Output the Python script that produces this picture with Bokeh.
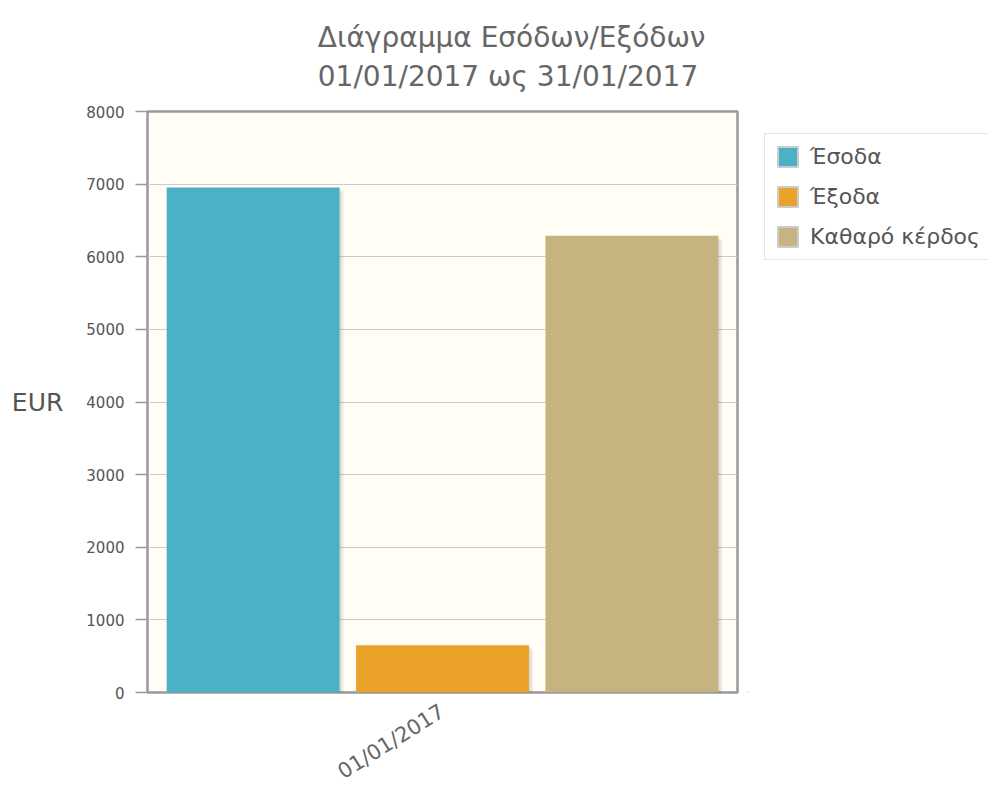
import math
from bokeh.plotting import figure
from bokeh.layouts import row
from bokeh.models import (FactorRange, Range1d, ColumnDataSource, Legend,
                          LegendItem, FixedTicker)
from bokeh.transform import dodge
from bokeh.embed import file_html
from bokeh.resources import INLINE

# ---- data ----
categories = ["01/01/2017"]
series = ["Έσοδα", "Έξοδα", "Καθαρό κέρδος"]
amounts = [6955, 650, 6290]
colors = ["#4bb2c5", "#EAA228", "#c5b47f"]
y_ticks = [0, 1000, 2000, 3000, 4000, 5000, 6000, 7000, 8000]
title_lines = ["Διάγραμμα Εσόδων/Εξόδων", "01/01/2017 ως 31/01/2017"]
y_label = "EUR"

# ---- layout ----
H = 796
FW, FH = 590, 582
LEFT, TOP, RIGHT = 147, 110, 10
W = LEFT + FW + RIGHT
LW = 988 - W
FONT = "DejaVu Sans"

p = figure(width=W, height=H,
           x_range=FactorRange(factors=categories),
           y_range=Range1d(y_ticks[0], y_ticks[-1]),
           output_backend="svg", toolbar_location=None,
           min_border_left=LEFT, min_border_right=RIGHT,
           min_border_top=TOP, min_border_bottom=H - TOP - FH)

p.background_fill_color = "#fffdf6"
p.border_fill_color = "white"
p.outline_line_color = "#999999"
p.outline_line_width = 2.5

offsets = [-0.321, 0.0, 0.321]
bar_w = 0.293
px = 1.0 / FW
py = (y_ticks[-1] - y_ticks[0]) / FH

for name, amt, col, off in zip(series, amounts, colors, offsets):
    for k in (1, 2, 3):
        ssrc = ColumnDataSource(dict(x=categories, top=[amt - k * 1.4 * py]))
        p.vbar(x=dodge("x", off + k * 1.4 * px, range=p.x_range), top="top",
               width=bar_w, source=ssrc, fill_color="black", fill_alpha=0.05,
               line_color=None)
    src = ColumnDataSource(dict(x=categories, top=[amt]))
    p.vbar(x=dodge("x", off, range=p.x_range), top="top", width=bar_w,
           source=src, fill_color=col, line_color=None)

# ---- axes ----
p.xgrid.grid_line_color = None
p.ygrid.ticker = FixedTicker(ticks=y_ticks)
p.ygrid.grid_line_color = "#cccccc"

ya = p.yaxis[0]
ya.ticker = FixedTicker(ticks=y_ticks)
ya.axis_line_color = None
ya.major_tick_out = 12
ya.major_tick_in = 0
ya.major_tick_line_color = "#999999"
ya.major_tick_line_width = 1.5
ya.minor_tick_line_color = None
ya.major_label_standoff = 11
ya.major_label_text_font = FONT
ya.major_label_text_font_size = "15px"
ya.major_label_text_color = "#555555"
ya.axis_label = y_label
ya.axis_label_orientation = "horizontal"
ya.axis_label_text_font = FONT
ya.axis_label_text_font_size = "25px"
ya.axis_label_text_font_style = "normal"
ya.axis_label_text_color = "#555555"
ya.axis_label_standoff = 20

xa = p.xaxis[0]
xa.axis_line_color = None
xa.major_tick_line_color = None
xa.minor_tick_line_color = None
xa.major_label_orientation = math.radians(32)
xa.major_label_standoff = 11
xa.major_label_text_font = FONT
xa.major_label_text_font_size = "21px"
xa.major_label_text_color = "#666666"

# ---- title ----
p.title.text = "\n".join(title_lines)
p.title.align = "right"
p.title.offset = 32
p.title.standoff = 36
p.title.text_font = FONT
p.title.text_font_size = "28px"
p.title.text_font_style = "normal"
p.title.text_color = "#666666"
p.title.text_line_height = 1.2

# ---- legend (separate panel figure, frame aligned with main frame) ----
pl = figure(width=LW, height=H, x_range=Range1d(0, 1), y_range=Range1d(0, 1),
            output_backend="svg", toolbar_location=None,
            x_axis_location=None, y_axis_location=None, min_border=0)
pl.grid.grid_line_color = None
pl.outline_line_color = None
pl.background_fill_color = "white"
pl.border_fill_color = "white"

legend_items = []
for name, col in zip(series, colors):
    dummy = pl.vbar(x=[-10], top=[-5], bottom=[-6], width=0.1, fill_color=col,
                    line_color="#cccccc", line_width=2)
    legend_items.append(LegendItem(label=name, renderers=[dummy]))

legend = Legend(items=legend_items, location=(764 - W, FH - 24 - 126))
legend.margin = 0
legend.padding = 10
legend.spacing = 15
legend.glyph_width = 25
legend.glyph_height = 25
legend.label_height = 25
legend.label_standoff = 10
legend.label_text_font = FONT
legend.label_text_font_size = "22px"
legend.label_text_color = "#555555"
legend.border_line_color = "#cccccc"
legend.border_line_width = 1
legend.background_fill_color = "white"
legend.background_fill_alpha = 1
pl.add_layout(legend, "center")

layout = row(p, pl)
open("out.html", "w").write(file_html(layout, INLINE))
